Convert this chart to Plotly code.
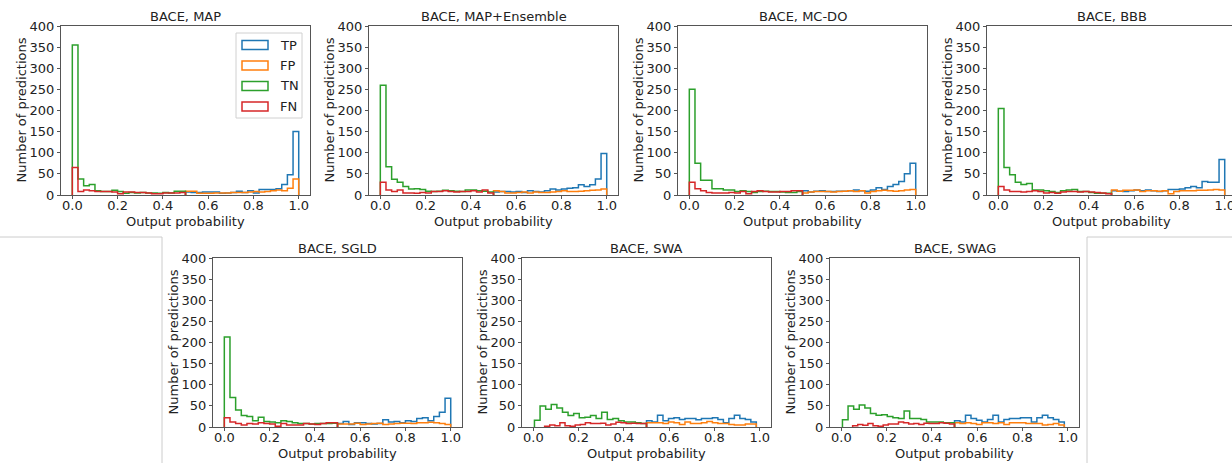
import numpy as np
import plotly.graph_objects as go

# panel titles, in drawing order (top row then bottom row)
methods = ["MAP", "MAP+Ensemble", "MC-DO", "BBB", "SGLD", "SWA", "SWAG"]
classes = ["TP", "FP", "TN", "FN"]
colors = {"TP": "#1f77b4", "FP": "#ff7f0e", "TN": "#2ca02c", "FN": "#d62728"}

# histogram counts, 20 bins each (TN/FN below 0.5, TP/FP above 0.5)
map_tp = [7, 6, 6, 7, 7, 7, 4, 5, 6, 9, 6, 10, 5, 13, 13, 13, 15, 25, 48, 150]
map_fp = [9, 9, 4, 4, 4, 5, 5, 5, 6, 6, 6, 7, 8, 7, 8, 10, 12, 10, 16, 38]
map_tn = [355, 38, 22, 25, 10, 8, 8, 11, 8, 4, 6, 5, 6, 5, 5, 4, 6, 5, 9, 9]
map_fn = [65, 8, 12, 10, 8, 8, 8, 7, 3, 7, 7, 6, 6, 5, 3, 3, 5, 5, 5, 6]

ens_tp = [7, 8, 8, 7, 8, 6, 10, 8, 7, 10, 14, 12, 14, 16, 17, 24, 20, 24, 38, 98]
ens_fp = [10, 8, 5, 5, 6, 7, 5, 7, 6, 6, 7, 8, 10, 8, 8, 9, 10, 11, 12, 14]
ens_tn = [260, 67, 37, 30, 20, 14, 15, 13, 9, 8, 9, 11, 10, 9, 8, 12, 12, 10, 9, 7]
ens_fn = [30, 12, 8, 12, 5, 5, 4, 6, 5, 8, 8, 10, 8, 7, 8, 8, 10, 7, 12, 5]

mcdo_tp = [10, 7, 9, 10, 8, 8, 9, 9, 10, 12, 10, 9, 12, 17, 13, 20, 25, 32, 50, 75]
mcdo_fp = [5, 7, 8, 8, 8, 7, 8, 9, 10, 8, 10, 5, 8, 10, 11, 10, 9, 10, 12, 13]
mcdo_tn = [250, 75, 35, 35, 15, 15, 12, 12, 8, 10, 8, 6, 8, 9, 8, 8, 7, 6, 6, 8]
mcdo_fn = [30, 15, 10, 6, 5, 5, 5, 6, 5, 8, 3, 8, 10, 8, 7, 7, 8, 8, 10, 10]

bbb_tp = [10, 9, 8, 10, 12, 10, 12, 10, 8, 10, 13, 13, 14, 17, 20, 17, 32, 30, 30, 84]
bbb_fp = [12, 9, 11, 11, 12, 8, 10, 10, 9, 10, 3, 8, 10, 10, 10, 11, 11, 12, 13, 12]
bbb_tn = [205, 65, 48, 30, 25, 27, 12, 12, 10, 8, 6, 10, 12, 13, 8, 8, 6, 4, 4, 4]
bbb_fn = [20, 12, 8, 8, 7, 8, 10, 8, 5, 6, 4, 7, 8, 8, 7, 8, 7, 6, 5, 3]

sgld_tp = [8, 13, 6, 10, 10, 8, 7, 8, 17, 12, 13, 10, 15, 13, 20, 22, 15, 25, 35, 68]
sgld_fp = [7, 7, 7, 9, 6, 7, 8, 9, 6, 7, 8, 9, 9, 8, 10, 10, 11, 10, 8, 6]
sgld_tn = [213, 70, 40, 27, 25, 15, 23, 13, 12, 10, 15, 13, 10, 8, 8, 7, 8, 8, 8, 9]
sgld_fn = [22, 12, 8, 5, 8, 7, 10, 8, 7, 2, 8, 5, 5, 5, 8, 7, 6, 8, 10, 10]

swa_tp = [15, 12, 28, 15, 20, 22, 18, 20, 20, 17, 20, 20, 22, 18, 10, 20, 28, 20, 18, 12]
swa_fp = [10, 10, 10, 8, 12, 10, 6, 12, 8, 8, 10, 13, 10, 8, 8, 6, 5, 5, 7, 7]
swa_tn = [16, 50, 42, 53, 45, 35, 27, 32, 22, 23, 27, 20, 35, 18, 20, 15, 12, 12, 10, 8]
swa_fn = [2, 5, 3, 10, 3, 2, 5, 6, 10, 8, 8, 9, 5, 7, 11, 10, 8, 9, 8, 8]

swag_tp = [15, 12, 28, 20, 16, 12, 18, 28, 12, 18, 20, 20, 22, 22, 12, 22, 28, 22, 18, 12]
swag_fp = [10, 8, 10, 8, 6, 10, 10, 8, 10, 6, 10, 10, 10, 8, 8, 8, 5, 6, 8, 5]
swag_tn = [17, 50, 42, 52, 45, 32, 28, 29, 25, 22, 20, 38, 20, 20, 18, 12, 12, 12, 10, 10]
swag_fn = [3, 6, 4, 8, 3, 2, 5, 7, 7, 12, 10, 7, 8, 6, 9, 8, 8, 10, 9, 7]

# data range of each histogram (min, max of the predictions)
default_ranges = {"TP": (0.5, 1.0), "FP": (0.5, 1.0), "TN": (0.0, 0.5), "FN": (0.0, 0.5)}
swa_ranges = {"TP": (0.5, 0.985), "FP": (0.5, 0.985), "TN": (0.005, 0.5), "FN": (0.05, 0.5)}

counts = {
    "MAP": [map_tp, map_fp, map_tn, map_fn],
    "MAP+Ensemble": [ens_tp, ens_fp, ens_tn, ens_fn],
    "MC-DO": [mcdo_tp, mcdo_fp, mcdo_tn, mcdo_fn],
    "BBB": [bbb_tp, bbb_fp, bbb_tn, bbb_fn],
    "SGLD": [sgld_tp, sgld_fp, sgld_tn, sgld_fn],
    "SWA": [swa_tp, swa_fp, swa_tn, swa_fn],
    "SWAG": [swag_tp, swag_fp, swag_tn, swag_fn],
}
ranges = {m: default_ranges for m in methods}
ranges["SWA"] = swa_ranges
ranges["SWAG"] = swa_ranges

W, H = 1232, 463
PX_PER_UNIT = 226.4
PANEL_W = 249
# panel boxes in pixels: left, right, top, bottom
boxes = [
    (61, 310, 26, 195), (369, 618, 26, 195), (678, 927, 26, 195), (987, 1232, 26, 195),
    (213, 462, 258, 427), (522, 771, 258, 427), (830, 1079, 258, 427),
]

FONT = "DejaVu Sans"
FS = 13
AX_COLOR = "#555555"
TXT = "#222222"


def step_xy(lo, hi, h):
    """Outline of a matplotlib 'step' histogram."""
    edges = np.linspace(lo, hi, len(h) + 1)
    xs = [edges[0]] + list(edges[:-1]) + [edges[-1], edges[-1]]
    ys = [0] + list(h) + [h[-1], 0]
    return xs, ys


def text(t, px, py, angle=0, anchor="center"):
    return dict(text=t, x=px / W, y=1 - py / H, xref="paper", yref="paper",
                xanchor=anchor, yanchor="middle", textangle=angle, showarrow=False,
                font=dict(family=FONT, size=FS, color=TXT))


fig = go.Figure()
layout = {}
annotations = []
shapes = []

for i, m in enumerate(methods):
    k = i + 1
    xa, ya = ("x", "y") if k == 1 else (f"x{k}", f"y{k}")
    for c, h in zip(classes, counts[m]):
        lo, hi = ranges[m][c]
        xs, ys = step_xy(lo, hi, h)
        fig.add_trace(go.Scatter(
            x=xs, y=ys, mode="lines", line=dict(color=colors[c], width=1.5, shape="hv"),
            xaxis=xa, yaxis=ya, showlegend=False, hoverinfo="skip", cliponaxis=True,
        ))

    left, right, top, bottom = boxes[i]
    width_units = (right - left) / PX_PER_UNIT
    cut = right >= W
    layout[f"xaxis{k}"] = dict(
        domain=[left / W, right / W], range=[-0.05, -0.05 + width_units],
        anchor=ya, automargin=False, tickvals=[0, 0.2, 0.4, 0.6, 0.8, 1.0],
        ticktext=["0.0", "0.2", "0.4", "0.6", "0.8", "1.0"], ticklabeloverflow="allow",
        ticklabelstandoff=-5,
        ticks="outside", ticklen=3, tickcolor=AX_COLOR, showline=True,
        linecolor=AX_COLOR, linewidth=1, mirror=True, showgrid=False, zeroline=False,
        tickfont=dict(family=FONT, size=FS, color=TXT),
    )
    layout[f"yaxis{k}"] = dict(
        domain=[1 - bottom / H, 1 - top / H], range=[0, 400], anchor=xa,
        automargin=False, tickvals=list(range(0, 401, 50)), ticks="outside", ticklen=3,
        tickcolor=AX_COLOR, showline=True, linecolor=AX_COLOR, linewidth=1,
        mirror=not cut, showgrid=False, zeroline=False,
        tickfont=dict(family=FONT, size=FS, color=TXT),
    )
    cx = left + PANEL_W / 2
    annotations.append(text(f"BACE, {m}", cx, top - 9))
    annotations.append(text("Output probability", left + 11.3 + PX_PER_UNIT / 2, bottom + 26))
    annotations.append(text("Number of predictions", left - 40, (top + bottom) / 2, angle=-90))

# legend drawn by hand in the first panel (outlined patches like matplotlib)
shapes.append(dict(type="rect", xref="paper", yref="paper",
                   x0=236 / W, x1=302 / W, y0=1 - 118 / H, y1=1 - 33 / H,
                   line=dict(color="#d0d0d0", width=1), fillcolor="rgba(255,255,255,0.8)"))
for j, c in enumerate(classes):
    yc = 45 + j * 20.5
    shapes.append(dict(type="rect", xref="paper", yref="paper",
                       x0=242 / W, x1=268 / W, y0=1 - (yc + 4.5) / H, y1=1 - (yc - 4.5) / H,
                       line=dict(color=colors[c], width=1.5), fillcolor="rgba(0,0,0,0)"))
    annotations.append(text(c, 278, yc, anchor="left"))

# light frames of the neighbouring figures seen at the edges
for pts in ([(0, 237), (162, 237), (162, 463)], [(1232, 237), (1087, 237), (1087, 463)]):
    path = "M " + " L ".join(f"{x / W},{1 - y / H}" for x, y in pts)
    shapes.append(dict(type="path", xref="paper", yref="paper", path=path,
                       line=dict(color="#cccccc", width=1)))

fig.update_layout(
    width=W, height=H, margin=dict(l=0, r=0, t=0, b=0, pad=0),
    paper_bgcolor="white", plot_bgcolor="white", showlegend=False,
    annotations=annotations, shapes=shapes, **layout,
)

# the page's default body margin would push the figure 8px off the window
fig.write_html(
    "out.html",
    config={"displayModeBar": False},
    post_script="document.body.style.margin='0';document.body.style.overflow='hidden';",
)
